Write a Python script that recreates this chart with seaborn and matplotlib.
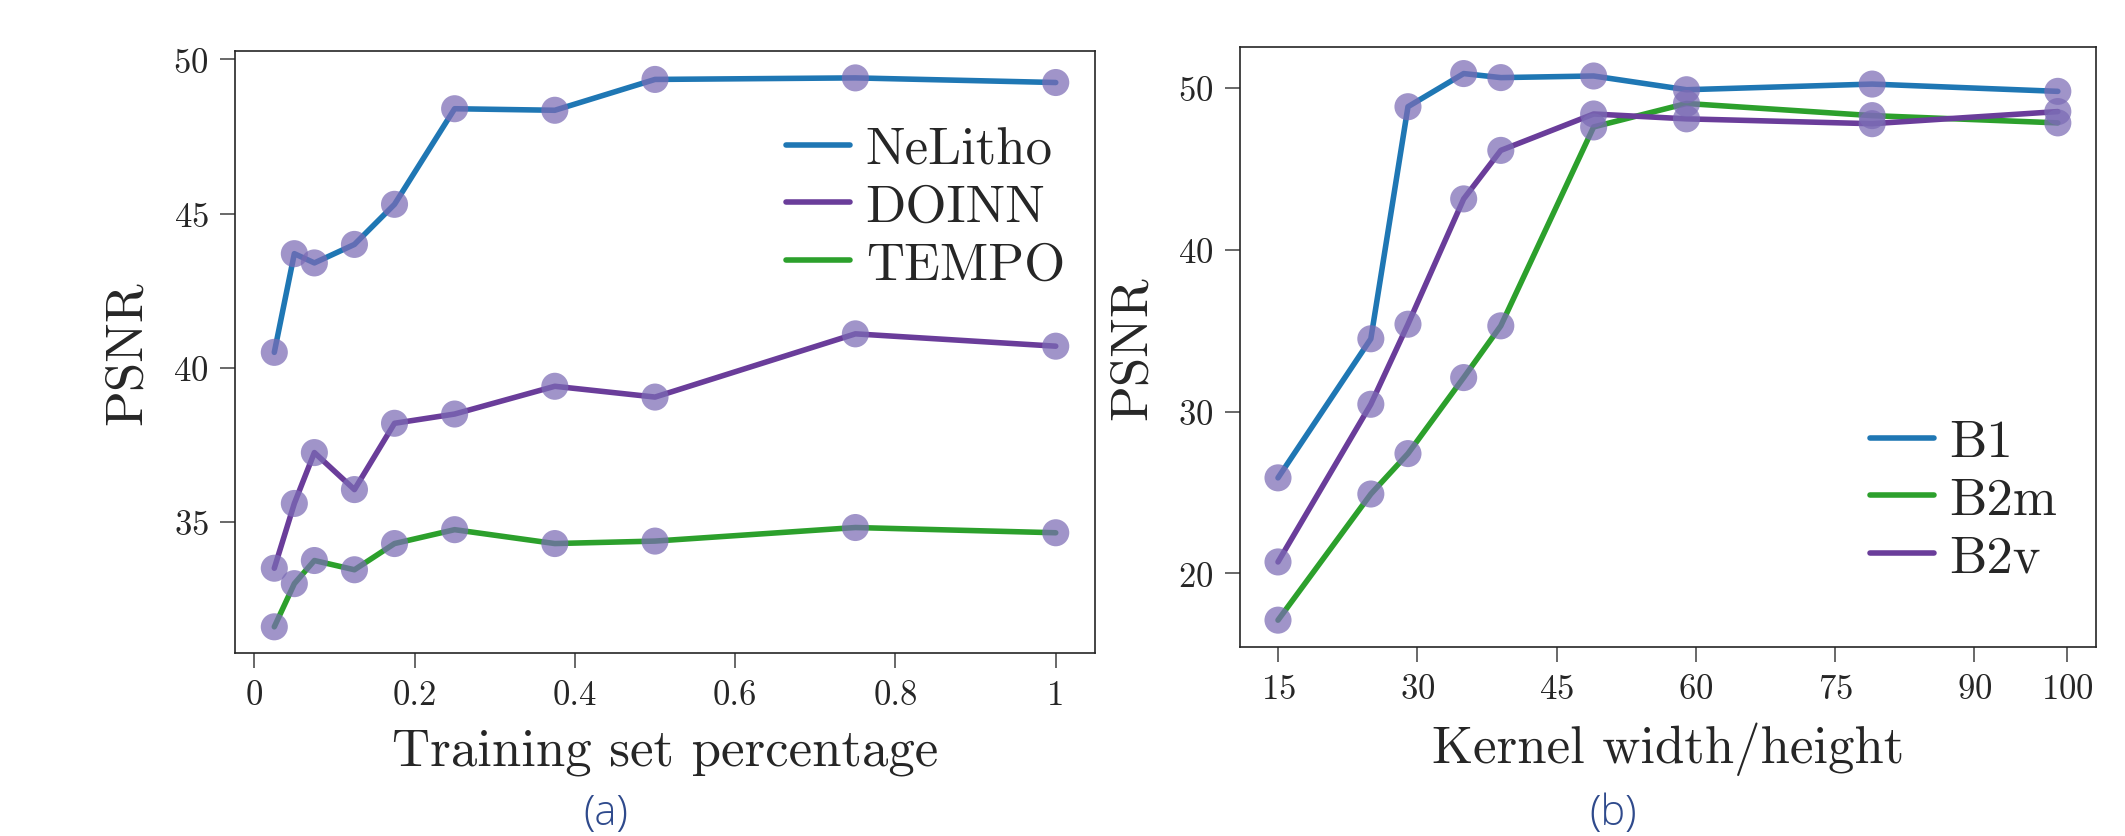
import pandas as pd
import seaborn as sns
import matplotlib.pyplot as plt

# panel (a): PSNR vs training set percentage
train_pct = [0.025, 0.05, 0.075, 0.125, 0.175, 0.25, 0.375, 0.5, 0.75, 1.0]
nelitho = [40.5, 43.7, 43.4, 44.0, 45.3, 48.4, 48.35, 49.35, 49.4, 49.25]
doinn = [33.5, 35.6, 37.25, 36.05, 38.2, 38.5, 39.4, 39.05, 41.1, 40.7]
tempo = [31.6, 33.0, 33.75, 33.45, 34.3, 34.75, 34.3, 34.38, 34.82, 34.65]
methods_a = ['NeLitho', 'DOINN', 'TEMPO']

# panel (b): PSNR vs kernel size
kernel = [15, 25, 29, 35, 39, 49, 59, 79, 99]
b1 = [25.9, 34.5, 48.85, 50.9, 50.65, 50.75, 49.9, 50.25, 49.8]
b2m = [17.1, 24.9, 27.4, 32.1, 35.3, 47.6, 49.05, 48.3, 47.85]
b2v = [20.7, 30.45, 35.4, 43.15, 46.15, 48.4, 48.1, 47.8, 48.55]
methods_b = ['B1', 'B2m', 'B2v']

xticks_a = [0, 0.2, 0.4, 0.6, 0.8, 1.0]
xticklabels_a = ['0', '0.2', '0.4', '0.6', '0.8', '1']
yticks_a = [35, 40, 45, 50]
xticks_b = [15, 30, 45, 60, 75, 90, 100]
yticks_b = [20, 30, 40, 50]

df_a = pd.DataFrame({
    'x': train_pct * 3,
    'psnr': nelitho + doinn + tempo,
    'method': [m for m in methods_a for _ in train_pct],
})
df_b = pd.DataFrame({
    'x': kernel * 3,
    'psnr': b1 + b2m + b2v,
    'method': [m for m in methods_b for _ in kernel],
})

blue, purple, green = '#1f77b4', '#6a3d9a', '#2ca02c'
pal_a = {'NeLitho': blue, 'DOINN': purple, 'TEMPO': green}
pal_b = {'B1': blue, 'B2m': green, 'B2v': purple}
dot_color = '#7b6bb5'

sns.set_style('ticks')
plt.rcParams['font.family'] = ['cmr10', 'DejaVu Serif']
plt.rcParams['axes.formatter.use_mathtext'] = True
plt.rcParams['axes.linewidth'] = 1.2

fig = plt.figure(figsize=(21.25, 8.37), dpi=100)
ax1 = fig.add_axes([0.1106, 0.2186, 0.4047, 0.7192])
ax2 = fig.add_axes([0.5835, 0.2258, 0.4028, 0.7168])

for ax, df, pal, order in [(ax1, df_a, pal_a, methods_a), (ax2, df_b, pal_b, methods_b)]:
    sns.lineplot(data=df, x='x', y='psnr', hue='method', hue_order=order,
                 palette=pal, linewidth=4, ax=ax)
    sns.scatterplot(data=df, x='x', y='psnr', color=dot_color, alpha=0.72,
                    s=380, edgecolor='none', legend=False, ax=ax, zorder=3)
    ax.set_ylabel('PSNR', fontsize=38, labelpad=16)
    ax.tick_params(axis='both', labelsize=25, length=11, width=1.1,
                   color='0.25', pad=8)

ax1.set_xlim(-0.024, 1.049)
ax1.set_ylim(30.75, 50.27)
ax1.set_xticks(xticks_a)
ax1.set_xticklabels(xticklabels_a)
ax1.set_yticks(yticks_a)
ax1.set_xlabel('Training set percentage', fontsize=38, labelpad=12)
ax1.legend(loc='upper right', bbox_to_anchor=(0.965, 0.875), frameon=False,
           fontsize=38, handlelength=1.2, handletextpad=0.3,
           labelspacing=0.2, borderaxespad=0, borderpad=0)

ax2.set_xlim(10.9, 103.1)
ax2.set_ylim(15.44, 52.54)
ax2.set_xticks(xticks_b)
ax2.set_yticks(yticks_b)
ax2.set_xlabel('Kernel width/height', fontsize=38, labelpad=12)
ax2.legend(loc='lower right', bbox_to_anchor=(0.955, 0.11), frameon=False,
           fontsize=38, handlelength=1.2, handletextpad=0.3,
           labelspacing=0.2, borderaxespad=0, borderpad=0)

cap_style = dict(fontsize=30, color='#2f4a8c', ha='center', va='bottom',
                 family=['Open Sans', 'DejaVu Sans'], fontweight='light')
fig.text(606 / 2125, 2 / 837, '(a)', **cap_style)
fig.text(1613 / 2125, 2 / 837, '(b)', **cap_style)

fig.savefig('out.png', dpi=100)
